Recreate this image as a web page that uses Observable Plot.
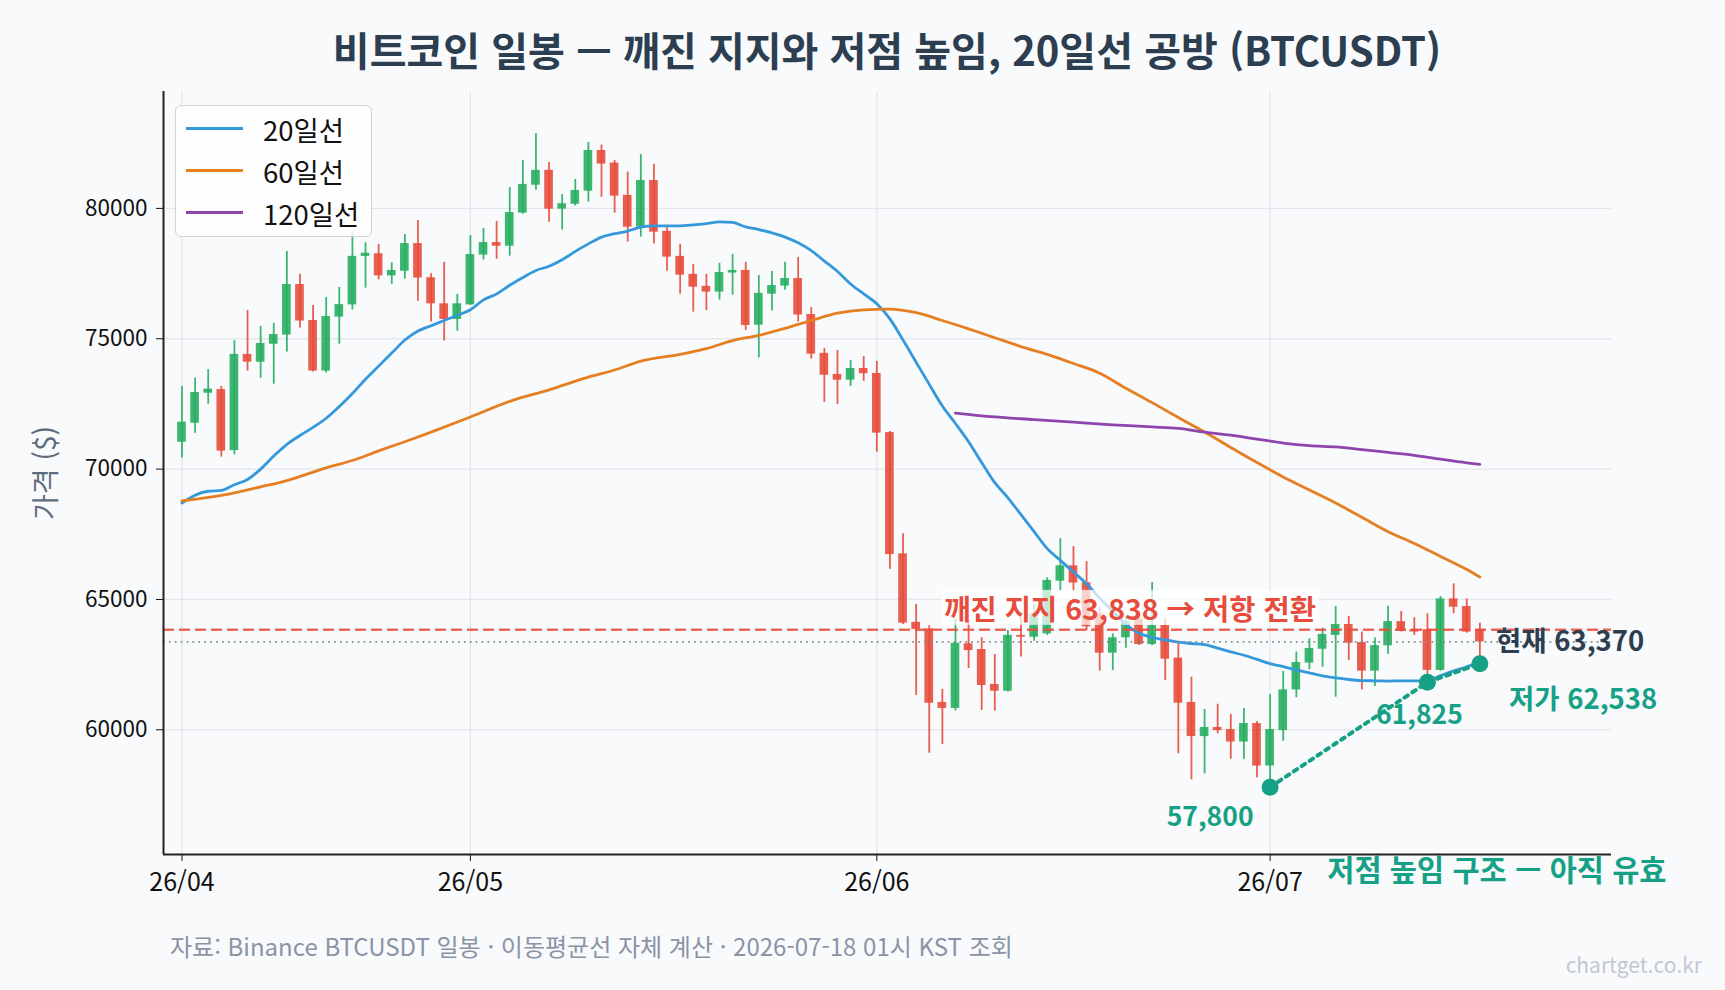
<!DOCTYPE html>
<html lang="ko">
<head>
<meta charset="utf-8">
<script src="https://cdn.jsdelivr.net/npm/d3@7"></script>
<script src="https://cdn.jsdelivr.net/npm/@observablehq/plot@0.6"></script>
<style>
  html, body { margin: 0; padding: 0; background: #f8fafc; }
  #wrap { position: relative; width: 1725px; height: 990px; background: #f8fafc; overflow: hidden;
          font-family: "Noto Sans CJK KR", "Noto Sans", sans-serif; }
  #title { position: absolute; left: 163px; width: 1448px; top: 23px; text-align: center;
           font-size: 40px; font-weight: 700; color: #2c3e50; line-height: 52px; white-space: nowrap; }
  #chart { position: absolute; left: 0; top: 70px; }
  #legend { position: absolute; left: 175px; top: 105px; width: 195px; height: 130px;
            background: rgba(255,255,255,0.8); border: 1.5px solid #d3d3d3; border-radius: 6px; }
  .lg-row { position: absolute; left: 0; height: 40px; width: 195px; }
  .lg-sw { position: absolute; left: 10px; top: 18px; width: 57px; height: 3.3px; }
  .lg-tx { position: absolute; left: 87px; top: 0; line-height: 40px; font-size: 27.5px; color: #111; }
  #footer { position: absolute; left: 170px; top: 929px; font-size: 24px; color: #8a94a6; line-height: 34px; white-space: nowrap; }
  #wm { position: absolute; right: 23px; top: 950px; font-size: 21px; color: #c3c8d0; line-height: 28px; }
</style>
</head>
<body>
<div id="wrap">
  <div id="title">비트코인 일봉 — 깨진 지지와 저점 높임, 20일선 공방 (BTCUSDT)</div>
  <div id="chart"></div>
  <div id="legend"></div>
  <div id="footer">자료: Binance BTCUSDT 일봉 · 이동평균선 자체 계산 · 2026-07-18 01시 KST 조회</div>
  <div id="wm">chartget.co.kr</div>
</div>
<script>
// ---- x axis (candle index, one per day from 2026-04-09 to 2026-07-17) ----
const tickIdx = [0, 22, 53, 83];
const tickLabels = ["26/04", "26/05", "26/06", "26/07"];
const yTicks = [60000, 65000, 70000, 75000, 80000];

// ---- daily OHLC (USDT) ----
const openP = [71030,71760,72910,73050,70710,74400,74100,74790,75140,77080,
  75700,73760,75830,76300,78160,78260,77410,77590,78650,77340,
  76340,75740,76300,78210,78690,78550,79820,80890,81460,79970,
  80160,80660,82220,81740,80500,79280,81070,79120,78160,77470,
  77010,76790,77520,77620,75520,76710,77020,77310,75930,74440,
  73630,73410,73860,73670,71400,66750,64120,63870,61050,60820,
  63300,63080,61740,61480,63620,63550,63680,65700,66290,65640,
  64450,62940,63530,64260,63270,64000,62750,61050,59740,60090,
  60010,59530,60240,58610,59970,61530,62560,63090,63620,64040,
  63350,62250,63220,64150,63840,63840,62280,65020,64730,63840];
const highP = [73170,73490,73820,73170,74930,76080,75470,75590,78350,77470,
  76280,76580,76970,79100,78680,78620,77910,79000,79540,77490,
  77930,76700,78960,79230,79500,80800,81840,82870,81760,80530,
  81110,82530,82430,81840,81390,82070,81690,79260,78620,77850,
  77470,77890,78230,77930,77430,77580,77930,78120,76200,74630,
  74550,74170,74320,74130,71440,67520,64810,63990,61550,64260,
  64220,63530,62890,63810,64300,64810,65830,67330,67030,66450,
  64700,63680,64300,64400,65650,64290,63300,62020,60780,60980,
  60590,60820,60320,61350,62240,62980,63490,63900,64730,64350,
  63750,63520,64740,64540,64300,64450,65110,65600,65020,64090];
const lowP = [70430,71380,72490,70460,70550,73760,73490,73260,74490,75410,
  73720,73690,74790,76110,76940,77260,77090,77290,76440,75640,
  74910,75290,76280,78020,78050,78170,79780,80700,79470,79170,
  80090,80240,80430,79820,78710,78900,78630,77590,76710,76020,
  76080,76480,76670,75320,74260,76060,76860,75640,74220,72560,
  72480,73170,73370,70650,66160,64040,61320,59100,59440,60720,
  62350,60740,60720,61450,62790,63400,63620,65320,65320,63800,
  62250,62270,63130,63230,63230,61890,59080,58080,58310,59850,
  58870,58870,58160,57800,59560,61230,62300,62400,61250,62660,
  61530,61660,62890,63750,63620,61825,62250,64450,63710,62538];
const closeP = [71800,72940,73070,70690,74400,74100,74820,75160,77080,75680,
  73760,75850,76310,78160,78280,77410,77620,78650,77330,76340,
  75740,76340,78230,78690,78550,79840,80920,81460,79970,80180,
  80690,82220,81700,80470,79280,81070,79090,78130,77440,76980,
  76790,77540,77620,75510,76740,77040,77310,75910,74410,73600,
  73410,73860,73660,71380,66720,64090,63850,61020,60820,63320,
  63040,61700,61480,63620,63550,64450,65730,66290,65630,63950,
  62940,63530,64150,63270,64000,62710,61020,59740,60090,59970,
  59530,60240,58610,60010,61530,62580,63120,63660,64040,63320,
  62250,63230,64150,63780,63750,62280,65020,64700,63750,63370];

// ---- moving averages ----
const ma20 = [68700,69000,69150,69180,69400,69600,70000,70500,70950,71290,
  71600,71950,72400,72900,73450,73950,74450,74950,75300,75500,
  75700,75900,76110,76490,76720,77050,77350,77620,77780,78030,
  78350,78640,78900,79030,79130,79280,79330,79330,79330,79370,
  79420,79480,79460,79290,79190,79060,78900,78680,78380,77980,
  77580,77100,76720,76340,75760,74950,74100,73250,72420,71750,
  71050,70250,69480,68900,68250,67600,66950,66500,66050,65600,
  65050,64550,64050,63700,63550,63450,63360,63310,63270,63130,
  62990,62860,62700,62540,62420,62300,62180,62070,61990,61930,
  61890,61880,61870,61880,61880,61900,62080,62260,62420,62600];
const ma60Idx = [0,3,6,8,11,13,15,17,19,22,25,28,31,33,35,38,40,42,44,46,48,50,52,54,56,58,60,62,64,66,68,70,72,74,76,78,80,82,84,86,88,90,92,94,96,98,99];
const ma60Val = [68780,68990,69320,69560,70050,70330,70700,71050,71420,72000,72600,73040,73530,73800,74140,74400,74620,74930,75130,75400,75700,75980,76110,76140,76000,75700,75380,75040,74700,74400,74050,73680,73100,72550,71980,71420,70830,70250,69700,69200,68700,68150,67600,67150,66650,66150,65860];
const ma120Idx = [59,62,65,68,71,74,76,78,80,82,84,86,88,90,92,94,96,98,99];
const ma120Val = [72150,72000,71900,71800,71700,71620,71560,71420,71300,71150,71000,70900,70850,70750,70640,70530,70380,70240,70180];

// ---- annotations ----
const supportLevel = 63838;
const currentPrice = 63370;
const lowIdx = [83, 95, 99];
const lowVal = [57800, 61825, 62538];
const lowLabels = ["57,800", "61,825", "저가 62,538"];

const UP = "#27ae60", DOWN = "#e74c3c", TEAL = "#16a085";
const C20 = "#3498db", C60 = "#e67e22", C120 = "#8e44ad";

const candles = openP.map((o, i) => ({i, o, h: highP[i], l: lowP[i], c: closeP[i], col: closeP[i] >= o ? UP : DOWN}));
const ma20Data = ma20.map((v, i) => ({i, v}));
const ma60Data = ma60Idx.map((i, k) => ({i, v: ma60Val[k]}));
const ma120Data = ma120Idx.map((i, k) => ({i, v: ma120Val[k]}));
const lows = lowIdx.map((i, k) => ({i, v: lowVal[k], label: lowLabels[k]}));

const xDomain = [-1.41, 109.04];
const yDomain = [55217, 84484];

const plot = Plot.plot({
  width: 1725, height: 840,
  marginTop: 21, marginBottom: 56, marginLeft: 163, marginRight: 114,
  x: {domain: xDomain, axis: null},
  y: {domain: yDomain, axis: null},
  color: {type: "identity"},
  style: {background: "transparent", fontFamily: '"Noto Sans CJK KR", "Noto Sans", sans-serif', fontSize: "25px", color: "#111", overflow: "visible"},
  marks: [
    Plot.gridY(yTicks, {stroke: "#e3e6ea", strokeOpacity: 1, strokeWidth: 1.3}),
    Plot.gridX(tickIdx, {stroke: "#e3e6ea", strokeOpacity: 1, strokeWidth: 1.3}),
    // candles
    Plot.ruleX(candles, {x: "i", y1: "l", y2: "h", stroke: "col", strokeWidth: 1.8, strokeOpacity: 0.9}),
    Plot.rect(candles, {x1: d => d.i - 0.33, x2: d => d.i + 0.33, y1: "o", y2: "c", fill: "col", fillOpacity: 0.9}),
    // moving averages
    Plot.line(ma20Data, {x: "i", y: "v", stroke: C20, strokeWidth: 2.8, curve: "monotone-x"}),
    Plot.line(ma60Data, {x: "i", y: "v", stroke: C60, strokeWidth: 2.8, curve: "monotone-x"}),
    Plot.line(ma120Data, {x: "i", y: "v", stroke: C120, strokeWidth: 2.8, curve: "monotone-x"}),
    // levels
    Plot.ruleY([supportLevel], {stroke: "#e74c3c", strokeWidth: 2.3, strokeDasharray: "11,5", strokeOpacity: 0.85}),
    Plot.ruleY([currentPrice], {stroke: "#7f8c8d", strokeWidth: 1.7, strokeDasharray: "1.7,4.2"}),
    // higher lows
    Plot.line(lows, {x: "i", y: "v", stroke: TEAL, strokeWidth: 4, strokeDasharray: "4,5.5"}),
    Plot.dot(lows, {x: "i", y: "v", r: 8.5, fill: TEAL}),
    Plot.text([lows[0]], {x: "i", y: "v", text: "label", dx: -60, dy: 30, fill: TEAL, fontWeight: 700, fontSize: 26.5}),
    Plot.text([lows[1]], {x: "i", y: "v", text: "label", dx: -8, dy: 33, fill: TEAL, fontWeight: 700, fontSize: 26.5}),
    Plot.text([lows[2]], {x: "i", y: "v", text: "label", dx: 29, dy: 37, textAnchor: "start", fill: TEAL, fontWeight: 700, fontSize: 27.5}),
    Plot.text([{i: 99, v: currentPrice}], {x: "i", y: "v", text: d => "현재 " + d3.format(",")(d.v), dx: 16, textAnchor: "start", fill: "#2c3e50", fontWeight: 700, fontSize: 27.5}),
    Plot.text([{i: 58, v: supportLevel}], {x: "i", y: "v", text: d => "깨진 지지 " + d3.format(",")(d.v) + " → 저항 전환", dx: 2, dy: -19, textAnchor: "start", fill: "#e74c3c", fontWeight: 700, fontSize: 28.5}),
    Plot.text([{i: 99}], {x: "i", frameAnchor: "bottom", text: () => "저점 높임 구조 — 아직 유효", dx: 17, dy: 17, lineAnchor: "middle", textAnchor: "middle", fill: TEAL, fontWeight: 700, fontSize: 29.5}),
    // y label
    Plot.text(["가격 ($)"], {frameAnchor: "left", dx: -116, rotate: -90, textAnchor: "middle", lineAnchor: "middle", fill: "#5d6d7e", fontSize: 28}),
    // axes
    Plot.axisY(yTicks, {tickSize: 7, tickPadding: 9, label: null, fontSize: 22.5, tickFormat: d => String(d)}),
    Plot.axisX(tickIdx, {tickSize: 7, tickPadding: 12, label: null, fontSize: 25, tickFormat: d => tickLabels[tickIdx.indexOf(d)]}),
    Plot.ruleX([xDomain[0]], {stroke: "#222", strokeWidth: 2}),
    Plot.ruleY([yDomain[0]], {stroke: "#222", strokeWidth: 2})
  ]
});
document.getElementById("chart").appendChild(plot);

// translucent box behind the broken-support label
const tEl = [...plot.querySelectorAll("text")].find(e => e.textContent.startsWith("깨진"));
if (tEl) {
  const bb = tEl.getBBox();
  const r = document.createElementNS("http://www.w3.org/2000/svg", "rect");
  r.setAttribute("x", bb.x - 3); r.setAttribute("y", bb.y + 3);
  r.setAttribute("width", bb.width + 6); r.setAttribute("height", bb.height - 6);
  r.setAttribute("fill", "white"); r.setAttribute("fill-opacity", "0.72");
  if (tEl.getAttribute("transform")) r.setAttribute("transform", tEl.getAttribute("transform"));
  tEl.parentNode.insertBefore(r, tEl);
}

// legend
const legendItems = [["20일선", C20], ["60일선", C60], ["120일선", C120]];
const lg = document.getElementById("legend");
legendItems.forEach(([name, col], k) => {
  const row = document.createElement("div");
  row.className = "lg-row"; row.style.top = (3 + k * 42) + "px";
  row.innerHTML = `<div class="lg-sw" style="background:${col}"></div><div class="lg-tx">${name}</div>`;
  lg.appendChild(row);
});
</script>
</body>
</html>
